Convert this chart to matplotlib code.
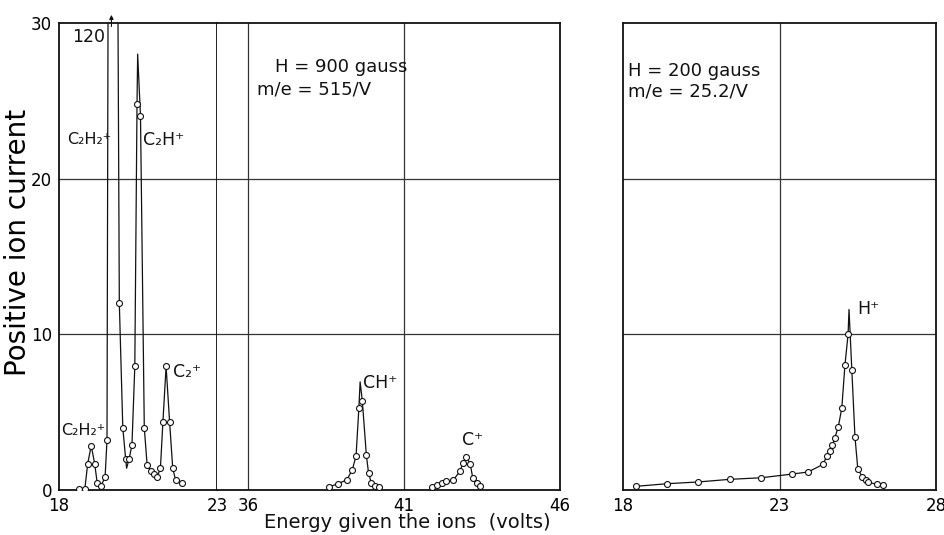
from matplotlib import pyplot as plt

# H = 900 gauss, 18-23 V: C2H2+, C2H+ and C2+ peaks (measured points)
low_volts = [18.63, 18.82, 18.91, 19.02, 19.13, 19.21, 19.33, 19.46, 19.52,
             19.91, 20.02, 20.11, 20.22, 20.31, 20.40, 20.47, 20.58, 20.70,
             20.79, 20.90, 21.01, 21.11, 21.21, 21.29, 21.39, 21.50, 21.60,
             21.69, 21.89]
low_current = [0.1, 0.1, 1.7, 2.85, 1.7, 0.45, 0.25, 0.85, 3.2,
               12.0, 4.0, 2.0, 2.0, 2.9, 7.95, 24.8, 24.0, 4.0,
               1.6, 1.25, 1.0, 0.85, 1.4, 4.4, 7.95, 4.4, 1.4,
               0.65, 0.45]
# curve tips drawn between measured points (C2H2+ peak reaches 120)
low_tip_volts = [19.66, 20.14, 20.49]
low_tip_current = [120.0, 1.4, 28.0]

# H = 900 gauss, 36-46 V: CH+ and C+
ch_volts = [38.59, 38.87, 39.16, 39.34, 39.46, 39.55, 39.66, 39.79, 39.86,
            39.95, 40.06, 40.19]
ch_current = [0.2, 0.4, 0.65, 1.3, 2.2, 5.25, 5.75, 2.25, 1.1, 0.45, 0.25, 0.17]
ch_tip_volts = [39.59]
ch_tip_current = [6.95]

c_volts = [41.90, 42.07, 42.23, 42.35, 42.58, 42.79, 42.89, 43.00, 43.12,
           43.20, 43.33, 43.44]
c_current = [0.2, 0.3, 0.45, 0.58, 0.65, 1.2, 1.75, 2.1, 1.7, 0.8, 0.43, 0.28]

# H = 200 gauss, 18-28 V: H+
h_volts = [18.41, 19.42, 20.40, 21.42, 22.42, 23.41, 23.91, 24.39, 24.51,
           24.61, 24.69, 24.77, 24.88, 24.99, 25.09, 25.19, 25.31, 25.41,
           25.50, 25.65, 25.75, 25.84, 26.11, 26.32]
h_current = [0.24, 0.41, 0.52, 0.69, 0.79, 1.03, 1.16, 1.65, 2.19,
             2.51, 2.88, 3.37, 4.08, 5.28, 8.03, 10.0, 7.71, 3.43,
             1.37, 0.84, 0.62, 0.50, 0.37, 0.34]
h_tip_volts = [25.22]
h_tip_current = [11.6]

y_ticks = [0, 10, 20, 30]
y_labels = ['0', '10', '20', '30']

LINE = '#111111'
GRID = '#333333'


def draw_curve(ax, volts, current, tip_volts=(), tip_current=()):
    pts = sorted(zip(list(volts) + list(tip_volts), list(current) + list(tip_current)))
    ax.plot([p[0] for p in pts], [p[1] for p in pts], color=LINE, lw=0.9, zorder=3)
    ax.plot(volts, current, 'o', ms=4.3, mfc='white', mec=LINE, mew=0.8, zorder=4)


def setup_axes(ax, xlim, xticks, vlines):
    ax.set_xlim(*xlim)
    ax.set_ylim(0, 30)
    ax.set_xticks(xticks)
    ax.set_xticklabels([str(t) for t in xticks], fontsize=12)
    ax.set_yticks(y_ticks)
    ax.tick_params(length=0, pad=5)
    for s in ax.spines.values():
        s.set_linewidth(1.3)
        s.set_color(LINE)
    for y in (10, 20):
        ax.axhline(y, color=GRID, lw=0.9, zorder=1)
    for x in vlines:
        ax.axvline(x, color=GRID, lw=0.9, zorder=1)


def plot_ion_currents():
    fig = plt.figure(figsize=(9.45, 5.35), dpi=100)
    bottom, height = 0.084, 0.873
    ax_a = fig.add_axes([0.0624, bottom, 0.1672, height])
    ax_b = fig.add_axes([0.2296, bottom, 0.3630, height])
    ax_c = fig.add_axes([0.6593, bottom, 0.3312, height])

    setup_axes(ax_a, (18, 23), [18, 23], [])
    setup_axes(ax_b, (35, 46), [36, 41, 46], [36, 41])
    setup_axes(ax_c, (18, 28), [18, 23, 28], [23])

    ax_a.set_yticklabels(y_labels, fontsize=12)
    ax_a.set_ylabel('Positive ion current', fontsize=20, labelpad=-1)
    ax_a.yaxis.label.set_y(0.53)
    ax_b.set_yticklabels([])
    ax_c.set_yticklabels([])
    ax_b.spines['left'].set_visible(False)

    draw_curve(ax_a, low_volts, low_current, low_tip_volts, low_tip_current)
    draw_curve(ax_b, ch_volts, ch_current, ch_tip_volts, ch_tip_current)
    draw_curve(ax_b, c_volts, c_current)
    draw_curve(ax_c, h_volts, h_current, h_tip_volts, h_tip_current)

    # off-scale peak marker
    ax_a.annotate('', xy=(low_tip_volts[0], 30.7), xytext=(low_tip_volts[0], 29.6),
                  arrowprops=dict(arrowstyle='-|>', lw=0.8, color=LINE,
                                  mutation_scale=6),
                  annotation_clip=False)

    lbl = dict(fontsize=12.5, va='center', ha='left', color=LINE)
    ax_a.text(18.41, 29.1, '120', **lbl)
    ax_a.text(18.26, 22.5, 'C₂H₂⁺', **dict(lbl, fontsize=11.5))
    ax_a.text(20.66, 22.5, 'C₂H⁺', **lbl)
    ax_a.text(21.61, 7.6, 'C₂⁺', **lbl)
    ax_a.text(18.08, 3.8, 'C₂H₂⁺', **dict(lbl, fontsize=11.5))
    ax_b.text(39.68, 6.9, 'CH⁺', **lbl)
    ax_b.text(42.85, 3.2, 'C⁺', **lbl)
    ax_c.text(25.48, 11.6, 'H⁺', **lbl)

    note = dict(fontsize=13, va='center', ha='left', color=LINE)
    ax_b.text(36.86, 27.2, 'H = 900 gauss', **note)
    ax_b.text(36.28, 25.7, 'm/e = 515/V', **note)
    ax_c.text(18.16, 26.9, 'H = 200 gauss', **note)
    ax_c.text(18.16, 25.6, 'm/e = 25.2/V', **note)

    fig.text(407 / 945, 1 - 523 / 535, 'Energy given the ions  (volts)',
             fontsize=14, ha='center', va='center', color=LINE)

    fig.savefig('out.png', dpi=100)


if __name__ == "__main__":
    plot_ion_currents()
